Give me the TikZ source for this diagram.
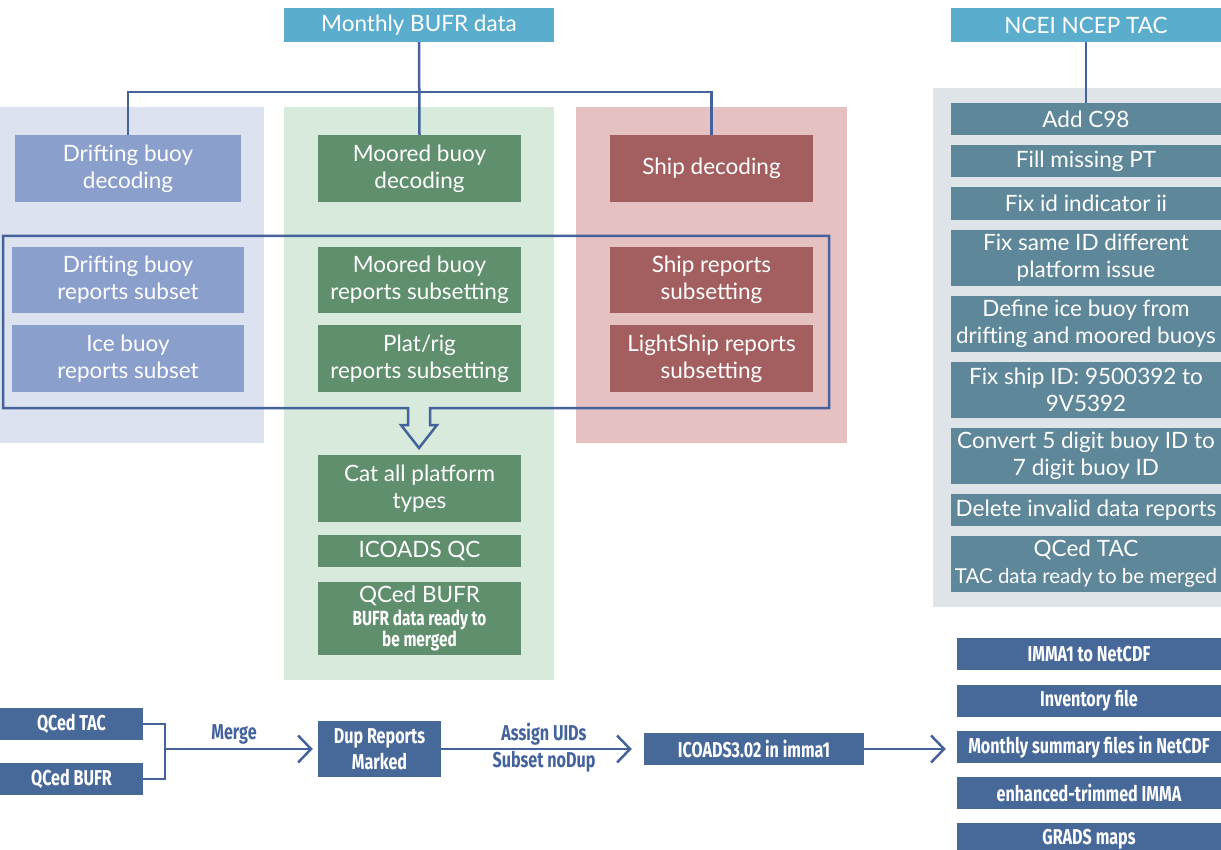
\documentclass[tikz,border=0pt]{standalone}
\usepackage{fontspec}
\setmainfont{Lato}
\newfontfamily\condf[FakeStretch=0.75]{Fira Sans}
\usetikzlibrary{arrows.meta}
\definecolor{hdrblue}{HTML}{5AADCD}
\definecolor{panblue}{HTML}{DDE2F0}
\definecolor{boxblue}{HTML}{8A9FCC}
\definecolor{pangreen}{HTML}{D7EADB}
\definecolor{boxgreen}{HTML}{5F8F6C}
\definecolor{panred}{HTML}{E6C1C1}
\definecolor{boxred}{HTML}{A35F5F}
\definecolor{pantac}{HTML}{DFE4E9}
\definecolor{boxtac}{HTML}{5E8799}
\definecolor{boxdark}{HTML}{46699A}
\definecolor{linec}{HTML}{44639C}
\tikzset{
  base/.style={inner sep=0pt, align=center, text=white, font=\fontsize{22.5}{27}\selectfont},
  hdr/.style={base, fill=hdrblue, minimum height=34pt, minimum width=270pt},
  bbox/.style={base, fill=boxblue},
  gbox/.style={base, fill=boxgreen, minimum width=203pt},
  rbox/.style={base, fill=boxred, minimum width=203pt},
  tbox/.style={base, fill=boxtac, minimum width=270pt},
  dbox/.style={inner sep=0pt, align=center, text=white, fill=boxdark, font=\condf\bfseries\fontsize{21.5}{26}\selectfont},
  conn/.style={draw=linec, line width=2.5pt},
  chev/.style={conn, -{Straight Barb[length=13pt, width=27pt, line width=2.5pt]}},
  lab/.style={text=linec, font=\condf\bfseries\fontsize{21.5}{28}\selectfont, inner sep=0pt}
}
\begin{document}
\begin{tikzpicture}[x=1pt, y=-1pt]
\useasboundingbox (0,0) rectangle (1221,850);
% panels
\fill[panblue] (0,107) rectangle (264,443);
\fill[pangreen] (284,107) rectangle (554,680);
\fill[panred] (576,107) rectangle (847,443);
\fill[pantac] (933,88) rectangle (1221,607);
% headers
\node[hdr] (bufr) at (419,25) {Monthly BUFR data};
\node[hdr] (tac) at (1086,25) {NCEI NCEP TAC};
% decoding
\node[bbox, minimum width=226pt, minimum height=67pt] (ddec) at (128,168.5) {Drifting buoy\\decoding};
\node[gbox, minimum height=67pt] (mdec) at (419.5,168.5) {Moored buoy\\decoding};
\node[rbox, minimum height=67pt] (sdec) at (711.5,168.5) {Ship decoding};
% subsets
\node[bbox, minimum width=232pt, minimum height=66pt] (dsub) at (128,280) {Drifting buoy\\reports subset};
\node[bbox, minimum width=232pt, minimum height=67pt] (isub) at (128,358.5) {Ice buoy\\reports subset};
\node[gbox, minimum height=66pt] (msub) at (419.5,280) {Moored buoy\\reports subsetting};
\node[gbox, minimum height=67pt] (psub) at (419.5,358.5) {Plat/rig\\reports subsetting};
\node[rbox, minimum height=66pt] (ssub) at (711.5,280) {Ship reports\\subsetting};
\node[rbox, minimum height=67pt] (lsub) at (711.5,358.5) {LightShip reports\\subsetting};
% green lower
\node[gbox, minimum height=67pt] (cat) at (419.5,488.5) {Cat all platform\\types};
\node[gbox, minimum height=32pt] (qc) at (419.5,551) {ICOADS QC};
\node[gbox, minimum height=73pt] (qbufr) at (419.5,618.5) {QCed BUFR\\[-4pt]\parbox[t]{200pt}{\centering\condf\bfseries\fontsize{20.5}{21}\selectfont BUFR data ready to\\be merged}};
% connectors top
\coordinate (j) at (419,92);
\draw[conn] (bufr.south) -- (mdec.north);
\draw[conn] (ddec.north) |- (j) -| (sdec.north);
% outline with hollow arrow
\draw[draw=linec, line width=2.5pt, line join=miter]
  (430,408) -- (829,408) -- (829,236) -- (3,236) -- (3,408) -- (408,408)
  -- (408,425) -- (401,425) -- (419,448) -- (437,425) -- (430,425) -- cycle;
% TAC boxes
\node[tbox, minimum height=32pt] (t1) at (1086,119) {Add C98};
\node[tbox, minimum height=32pt] (t2) at (1086,161) {Fill missing PT};
\node[tbox, minimum height=33pt] (t3) at (1086,203.5) {Fix id indicator ii};
\node[tbox, minimum height=56pt] (t4) at (1086,258) {Fix same ID different\\platform issue};
\node[tbox, minimum height=56pt] (t5) at (1086,324) {Define ice buoy from\\drifting and moored buoys};
\node[tbox, minimum height=56pt] (t6) at (1086,390) {Fix ship ID: 9500392 to\\9V5392};
\node[tbox, minimum height=56pt] (t7) at (1086,456) {Convert 5 digit buoy ID to\\7 digit buoy ID};
\node[tbox, minimum height=32pt] (t8) at (1086,510) {Delete invalid data reports};
\node[tbox, minimum height=56pt] (t9) at (1086,564) {QCed TAC\\\parbox[t]{270pt}{\centering\fontsize{20.5}{24}\selectfont TAC data ready to be merged}};
\draw[conn] (tac.south) -- (t1.north);
% bottom flow
\node[dbox, minimum width=143pt, minimum height=32pt] (btac) at (71.5,724) {QCed TAC};
\node[dbox, minimum width=143pt, minimum height=32pt] (bbufr) at (71.5,779) {QCed BUFR};
\node[dbox, minimum width=123pt, minimum height=56pt] (dup) at (379.5,749) {Dup Reports\\Marked};
\node[dbox, minimum width=220pt, minimum height=32pt] (ico) at (754,749) {ICOADS3.02 in imma1};
\node[dbox, minimum width=264pt, minimum height=32pt] (o1) at (1089,654) {IMMA1 to NetCDF};
\node[dbox, minimum width=264pt, minimum height=32pt] (o2) at (1089,701) {Inventory file};
\node[dbox, minimum width=264pt, minimum height=32pt] (o3) at (1089,747) {Monthly summary files in NetCDF};
\node[dbox, minimum width=264pt, minimum height=32pt] (o4) at (1089,793) {enhanced-trimmed IMMA};
\node[dbox, minimum width=264pt, minimum height=32pt] (o5) at (1089,839) {GRADS maps};
\coordinate (mj) at (165,749);
\draw[conn] (btac.east) -| (mj) |- (bbufr.east);
\draw[chev, shorten >=5pt] (mj) -- (dup.west);
\node[lab] (mlab) at (234,734) {Merge};
\draw[chev, shorten >=12pt] (dup.east) -- (ico.west);
\node[lab] (alab) at (544,734) {Assign UIDs};
\node[lab] (slab) at (544,762) {Subset noDup};
\draw[chev, shorten >=11pt] (ico.east) -- (ico.east -| o3.west);
\end{tikzpicture}
\end{document}
